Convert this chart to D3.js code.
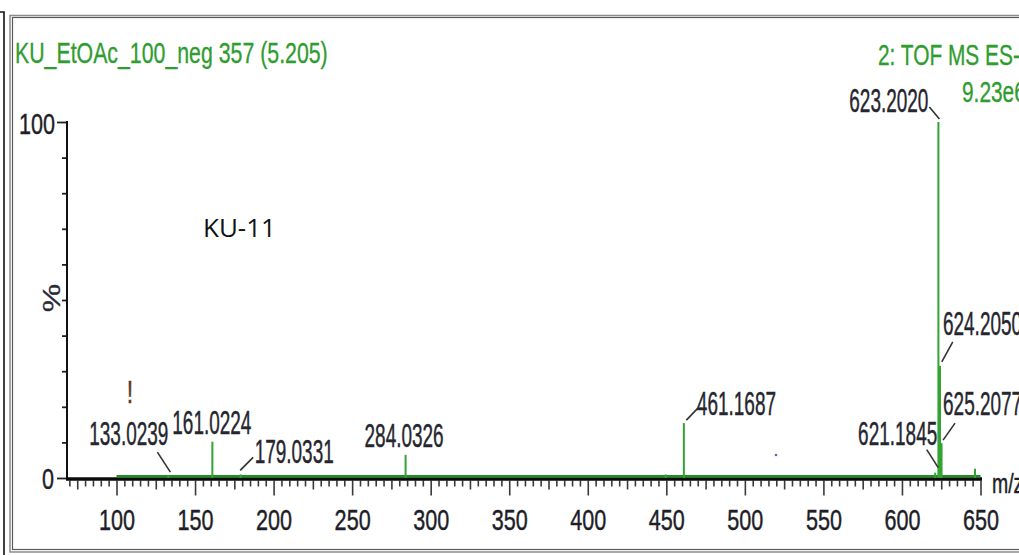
<!DOCTYPE html>
<html>
<head>
<meta charset="utf-8">
<script src="https://cdn.jsdelivr.net/npm/d3@7"></script>
<style>
  html, body { margin: 0; padding: 0; background: #fff; overflow: hidden; }
  svg { display: block; }
</style>
</head>
<body>
<svg id="chart" width="1019" height="555"></svg>
<script>
// ---- spectrum data (m/z, relative intensity %) ----
const peakMz        = [133.0239, 161.0224, 179.0331, 284.0326, 461.1687, 621.1845, 623.2020, 624.2050, 625.2077];
const peakIntensity = [0.8,      10.2,     1.0,      6.5,      15.4,     1.5,      100,      31.5,     9.8];
const peakLabels    = ["133.0239", "161.0224", "179.0331", "284.0326", "461.1687", "621.1845", "623.2020", "624.2050", "625.2077"];

const minorPeakMz        = [449.6, 646.5];
const minorPeakIntensity = [1.0, 2.6];

const scanRange     = [100, 650];
const baselineLevel = 0.5;

const xTickLabels = [100, 150, 200, 250, 300, 350, 400, 450, 500, 550, 600, 650];
const yTickLabels = [0, 100];

const titleText    = "KU_EtOAc_100_neg 357 (5.205)";
const functionText = "2: TOF MS ES-";
const basePeakText = "9.23e6";
const sampleName   = "KU-11";
const xUnit        = "m/z";
const yUnit        = "%";

// ---- label placement relative to each peak apex (px) ----
const labelLayout = [
  { anchor: "end",    dx: 0,    dy: -30, lead: [[-11, -23], [2, -3]] },
  { anchor: "middle", dx: -0.5, dy: -8 },
  { anchor: "start",  dx: 14,   dy: -11, lead: [[12.5, -17], [-0.5, -4]] },
  { anchor: "middle", dx: -1.5, dy: -8 },
  { anchor: "start",  dx: 13,   dy: -8,  lead: [[14, -15], [2.5, -3]] },
  { anchor: "end",    dx: 2,    dy: -28, lead: [[-8.5, -23], [3, -5]] },
  { anchor: "end",    dx: -10,  dy: -10, lead: [[-9, -15], [1, -3]] },
  { anchor: "start",  dx: 3,    dy: -31, lead: [[12.8, -24], [1.8, -4]] },
  { anchor: "start",  dx: 1.5,  dy: -28, lead: [[13.5, -20], [1.5, -3]] }
];

const GREEN = "#34a334";
const TEXT_GREEN = "#2f9c30";
const INK = "#26262f";
const FONT = "'Liberation Sans', Arial, sans-serif";

const svg = d3.select("#chart");
svg.append("rect").attr("width", 1019).attr("height", 555).attr("fill", "#fff");

// frames
svg.append("path").attr("d", "M0,12H4V555").attr("fill", "none")
  .attr("stroke", "#111").attr("stroke-width", 1.6);
svg.append("rect").attr("x", 10).attr("y", 15.5).attr("width", 1030).attr("height", 536.5)
  .attr("fill", "none").attr("stroke", "#8c8c8c").attr("stroke-width", 1.5);
svg.append("rect").attr("x", 12.5).attr("y", 17.5).attr("width", 1030).attr("height", 532)
  .attr("fill", "none").attr("stroke", "#5a5a5a").attr("stroke-width", 1.2);

// scales
const x = d3.scaleLinear().domain([100, 650]).range([116.5, 980.5]);
const y = d3.scaleLinear().domain([0, 100]).range([478, 122]);

// condensed text helper (slight outline thickens the narrow glyphs)
function label(g, str, px, py, opts) {
  const o = Object.assign({ size: 30, sx: 0.72, anchor: "start", fill: INK, family: FONT, weight: 0.45 }, opts || {});
  return g.append("text")
    .attr("transform", `translate(${px},${py}) scale(${o.sx},1)`)
    .attr("text-anchor", o.anchor)
    .attr("font-family", o.family)
    .attr("font-size", o.size)
    .attr("fill", o.fill)
    .attr("stroke", o.fill)
    .attr("stroke-width", o.weight)
    .text(str);
}

// ---- x axis ----
const axisY = 479;
const xAxisG = svg.append("g");
function tickAxis(values, size) {
  const g = xAxisG.append("g").attr("transform", `translate(0,${axisY + 1.5})`)
    .call(d3.axisBottom(x).tickValues(values).tickSize(size).tickFormat(""));
  g.select(".domain").remove();
  g.selectAll(".tick line").attr("stroke", "#3a3a3a").attr("stroke-width", 1.6);
  return g;
}
tickAxis(d3.range(70, 651, 5).filter(v => v % 25 !== 0), 6);
tickAxis(d3.range(75, 651, 50), 9);
const major = tickAxis(xTickLabels, 15);
major.selectAll(".tick").each(function (d) {
  label(d3.select(this), String(d), 0, 530 - axisY - 1.5, { anchor: "middle", size: 30, sx: 0.72, fill: "#1e1e28" });
});

// ---- y axis ----
const yAxisG = svg.append("g").attr("transform", "translate(67,0)");
const yMinor = yAxisG.append("g")
  .call(d3.axisLeft(y).tickValues(d3.range(10, 100, 10)).tickSize(5).tickFormat(""));
yMinor.select(".domain").remove();
yMinor.selectAll(".tick line").attr("stroke", "#222").attr("stroke-width", 1.8);
const yMajor = yAxisG.append("g")
  .call(d3.axisLeft(y).tickValues(yTickLabels).tickSize(10).tickFormat(""));
yMajor.select(".domain").remove();
yMajor.selectAll(".tick line").attr("stroke", "#222").attr("stroke-width", 1.8);
yMajor.selectAll(".tick").each(function (d) {
  label(d3.select(this), String(d), d === 0 ? -13 : -12, d === 0 ? 10 : 11,
        { anchor: "end", size: 30, sx: 0.72, fill: "#1e1e28" });
});
svg.append("line").attr("x1", 67).attr("x2", 67).attr("y1", y(100) - 1).attr("y2", axisY + 1)
  .attr("stroke", "#111").attr("stroke-width", 2);

// y unit
svg.append("text")
  .attr("transform", "translate(60,298) rotate(-90) scale(1,0.72)")
  .attr("text-anchor", "middle")
  .attr("font-family", FONT).attr("font-size", 32).attr("fill", "#2a2a35")
  .attr("stroke", "#2a2a35").attr("stroke-width", 0.4)
  .text(yUnit);

// x axis line
svg.append("line").attr("x1", 66).attr("x2", x(650) + 1.5).attr("y1", axisY).attr("y2", axisY)
  .attr("stroke", "#0a0a0a").attr("stroke-width", 3.6);

// ---- spectrum ----
const spec = svg.append("g");
spec.append("line")
  .attr("x1", x(scanRange[0])).attr("x2", x(scanRange[1]))
  .attr("y1", y(baselineLevel)).attr("y2", y(baselineLevel))
  .attr("stroke", "#1f8f22").attr("stroke-width", 2.6);

spec.selectAll("line.minor").data(minorPeakMz).join("line")
  .attr("class", "minor")
  .attr("x1", d => x(d)).attr("x2", d => x(d))
  .attr("y1", y(0)).attr("y2", (d, i) => y(minorPeakIntensity[i]))
  .attr("stroke", GREEN).attr("stroke-width", 2);

spec.selectAll("line.peak").data(peakMz).join("line")
  .attr("class", "peak")
  .attr("x1", d => x(d)).attr("x2", d => x(d))
  .attr("y1", y(0)).attr("y2", (d, i) => y(peakIntensity[i]))
  .attr("stroke", GREEN).attr("stroke-width", 2);

// peak annotations
const ann = svg.append("g");
peakMz.forEach((mz, i) => {
  const px = x(mz), py = y(peakIntensity[i]);
  const L = labelLayout[i];
  if (L.lead) {
    ann.append("line")
      .attr("x1", px + L.lead[0][0]).attr("y1", py + L.lead[0][1])
      .attr("x2", px + L.lead[1][0]).attr("y2", py + L.lead[1][1])
      .attr("stroke", "#333").attr("stroke-width", 1.6);
  }
  label(ann, peakLabels[i], px + L.dx, py + L.dy, { anchor: L.anchor, size: 33, sx: 0.575 });
});

// ---- header texts ----
label(svg, titleText, 15, 63, { size: 29, sx: 0.735, fill: TEXT_GREEN, weight: 0.3 });
label(svg, functionText, 878, 65, { size: 29, sx: 0.72, fill: TEXT_GREEN, weight: 0.3 });
label(svg, basePeakText, 962, 102, { size: 29, sx: 0.72, fill: TEXT_GREEN, weight: 0.3 });
label(svg, xUnit, 992, 493, { size: 27, sx: 0.72, fill: "#1e1e28" });

// sample name
svg.append("text").attr("x", 203).attr("y", 237)
  .attr("font-family", "'Open Sans', 'Liberation Sans', sans-serif")
  .attr("font-size", 26).attr("fill", "#111")
  .text(sampleName);

// stray marks
label(svg, "!", 130, 403, { anchor: "middle", size: 32, sx: 0.72, fill: "#5a3a28" });
svg.append("circle").attr("cx", 776).attr("cy", 455).attr("r", 1.3).attr("fill", "#5a6aa8");
</script>
</body>
</html>
